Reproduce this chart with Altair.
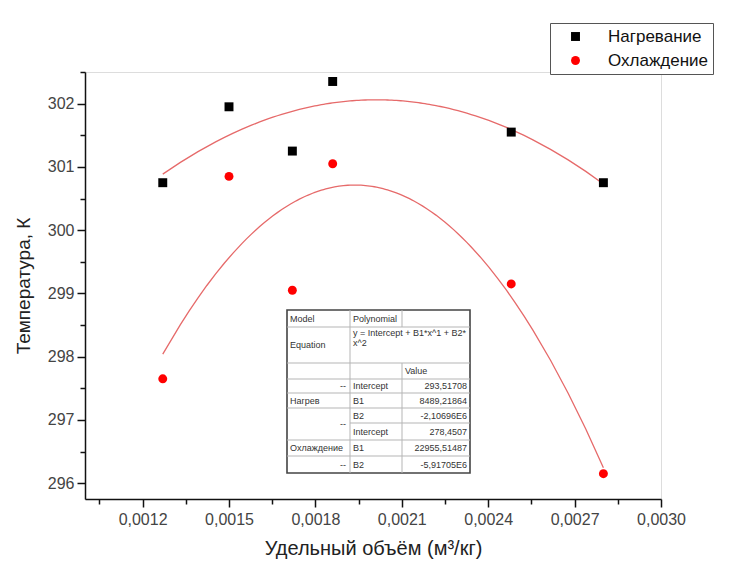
import altair as alt
import pandas as pd

# ---------------- data ----------------
volume = [0.00127, 0.00150, 0.00172, 0.00186, 0.00248, 0.00280]
heating = [300.75, 301.95, 301.25, 302.35, 301.55, 300.75]
cooling = [297.65, 300.85, 299.05, 301.05, 299.15, 296.15]
series = ["Нагревание", "Охлаждение"]

x_major = [0.0012, 0.0015, 0.0018, 0.0021, 0.0024, 0.0027, 0.0030]
x_minor = [0.00105, 0.00135, 0.00165, 0.00195, 0.00225, 0.00255, 0.00285]
y_major = [296, 297, 298, 299, 300, 301, 302]
y_minor = [296.5, 297.5, 298.5, 299.5, 300.5, 301.5, 302.5]

# fit-report table texts
tbl_col2 = ["Polynomial", "", "", "Intercept", "B1", "B2", "Intercept", "B1", "B2"]
tbl_col3 = ["", "", "Value", "293,51708", "8489,21864", "-2,10696E6", "278,4507", "22955,51487", "-5,91705E6"]
tbl_equation = ["y = Intercept + B1*x^1 + B2*", "x^2"]

FONT = "Liberation Sans"

df = pd.DataFrame({
    "v": volume + volume,
    "T": heating + cooling,
    "s": [series[0]] * len(volume) + [series[1]] * len(volume),
})

xscale = alt.Scale(domain=[0.001, 0.003], nice=False, zero=False)
yscale = alt.Scale(domain=[295.75, 302.5], nice=False, zero=False)

W, H = 576, 427

x_axis = alt.Axis(values=x_major, orient="bottom", grid=False,
                  labelExpr="replace(format(datum.value, '.4f'), '.', ',')",
                  tickSize=8, tickWidth=1.5, tickColor="#111", domainColor="#111", domainWidth=1.5,
                  labelFontSize=16, labelColor="#444", labelFont=FONT, labelPadding=4,
                  labelFlush=False, labelOverlap=False,
                  title="Удельный объём (м³/кг)", titleFont=FONT, titleFontSize=20,
                  titleFontWeight="normal", titleColor="#222", titlePadding=11)
y_axis = alt.Axis(values=y_major, orient="left", grid=False, format="d",
                  tickSize=8, tickWidth=1.5, tickColor="#111", domainColor="#111", domainWidth=1.5,
                  labelFontSize=16, labelColor="#444", labelFont=FONT, labelPadding=3,
                  labelFlush=False, labelOverlap=False,
                  title="Температура, К", titleFont=FONT, titleFontSize=19,
                  titleFontWeight="normal", titleColor="#222", titlePadding=14)
x_axis_minor = alt.Axis(values=x_minor, orient="bottom", grid=False, labels=False, domain=False,
                        tickSize=5, tickWidth=1.5, tickColor="#111", title=None)
y_axis_minor = alt.Axis(values=y_minor, orient="left", grid=False, labels=False, domain=False,
                        tickSize=5, tickWidth=1.5, tickColor="#111", title=None)

legend = alt.Legend(title=None, orient="none", legendX=465, legendY=-49,
                    strokeColor="#555", fillColor="white", padding=5, rowPadding=6,
                    symbolOffset=12, labelOffset=24, labelFont=FONT, labelFontSize=17,
                    labelColor="#111", symbolSize=80, symbolStrokeWidth=0)

points = alt.Chart(df).mark_point(filled=True, opacity=1, size=80, strokeWidth=0).encode(
    x=alt.X("v:Q", scale=xscale, axis=x_axis),
    y=alt.Y("T:Q", scale=yscale, axis=y_axis),
    color=alt.Color("s:N", scale=alt.Scale(domain=series, range=["#000000", "#ff0000"]), legend=legend),
    shape=alt.Shape("s:N", scale=alt.Scale(domain=series, range=["square", "circle"]), legend=legend),
)

fits = alt.Chart(df).transform_regression(
    "v", "T", groupby=["s"], method="poly", order=2
).mark_line(color="#e66a6a", strokeWidth=1.3).encode(
    x=alt.X("v:Q", scale=xscale, axis=x_axis_minor),
    y=alt.Y("T:Q", scale=yscale, axis=y_axis_minor),
    detail="s:N",
)

plot = alt.layer(fits, points).resolve_axis(x="independent", y="independent")

# ---------------- fit table (annotation, pixel layout) ----------------
cx = [202, 265, 317, 385]                      # column edges
ry = [238, 255, 291, 307, 321, 336, 351, 368, 384, 401]  # row edges

def mid(a, b):
    return (a + b) / 2

left_txt, right_txt = [], []
# column 1
left_txt.append({"t": "Model", "x": cx[0] + 3, "y": mid(ry[0], ry[1])})
left_txt.append({"t": "Equation", "x": cx[0] + 3, "y": mid(ry[1], ry[2])})
right_txt.append({"t": "--", "x": cx[1] - 4, "y": mid(ry[3], ry[4])})
left_txt.append({"t": "Нагрев", "x": cx[0] + 3, "y": mid(ry[4], ry[5])})
right_txt.append({"t": "--", "x": cx[1] - 4, "y": mid(ry[5], ry[7])})
left_txt.append({"t": "Охлаждение", "x": cx[0] + 3, "y": mid(ry[7], ry[8])})
right_txt.append({"t": "--", "x": cx[1] - 4, "y": mid(ry[8], ry[9])})
# column 2
for i, t in enumerate(tbl_col2):
    if t:
        left_txt.append({"t": t, "x": cx[1] + 3, "y": mid(ry[i], ry[i + 1])})
left_txt.append({"t": tbl_equation[0], "x": cx[1] + 3, "y": ry[1] + 6})
left_txt.append({"t": tbl_equation[1], "x": cx[1] + 3, "y": ry[1] + 16})
# column 3
for i, t in enumerate(tbl_col3):
    if not t:
        continue
    if t == "Value":
        left_txt.append({"t": t, "x": cx[2] + 3, "y": mid(ry[i], ry[i + 1])})
    else:
        right_txt.append({"t": t, "x": cx[3] - 3, "y": mid(ry[i], ry[i + 1])})

lines = []
# vertical lines
lines.append({"x": cx[1], "x2": cx[1], "y": ry[0], "y2": ry[-1]})
lines.append({"x": cx[2], "x2": cx[2], "y": ry[0], "y2": ry[1]})
lines.append({"x": cx[2], "x2": cx[2], "y": ry[2], "y2": ry[-1]})
# horizontal lines
for j in range(1, len(ry) - 1):
    x0 = cx[1] if j == 6 else cx[0]
    lines.append({"x": x0, "x2": cx[3], "y": ry[j], "y2": ry[j]})

box = pd.DataFrame([{"x": cx[0], "x2": cx[3], "y": ry[0], "y2": ry[-1]}])

px = lambda f: alt.X(f, scale=None, axis=None)
py = lambda f: alt.Y(f, scale=None, axis=None)

tbl_bg = alt.Chart(box).mark_rect(fill="white", stroke="#444", strokeWidth=1.6).encode(
    x=px("x:Q"), x2="x2:Q", y=py("y:Q"), y2="y2:Q")
tbl_lines = alt.Chart(pd.DataFrame(lines)).mark_rule(color="#b5b5b5", strokeWidth=1).encode(
    x=px("x:Q"), x2="x2:Q", y=py("y:Q"), y2="y2:Q")
tbl_left = alt.Chart(pd.DataFrame(left_txt)).mark_text(
    align="left", baseline="middle", font=FONT, fontSize=9, color="#333").encode(
    x=px("x:Q"), y=py("y:Q"), text="t:N")
tbl_right = alt.Chart(pd.DataFrame(right_txt)).mark_text(
    align="right", baseline="middle", font=FONT, fontSize=9, color="#333").encode(
    x=px("x:Q"), y=py("y:Q"), text="t:N")

table = alt.layer(tbl_bg, tbl_lines, tbl_left, tbl_right)

chart = alt.layer(plot, table).resolve_scale(x="independent", y="independent").properties(
    width=W, height=H,
    padding={"left": 77, "top": 64, "right": 64, "bottom": 61},
    autosize=alt.AutoSizeParams(type="none"),
).configure_view(stroke=None).configure(background="white")

chart.save("out.html", embed_options={"renderer": "svg", "actions": False})
